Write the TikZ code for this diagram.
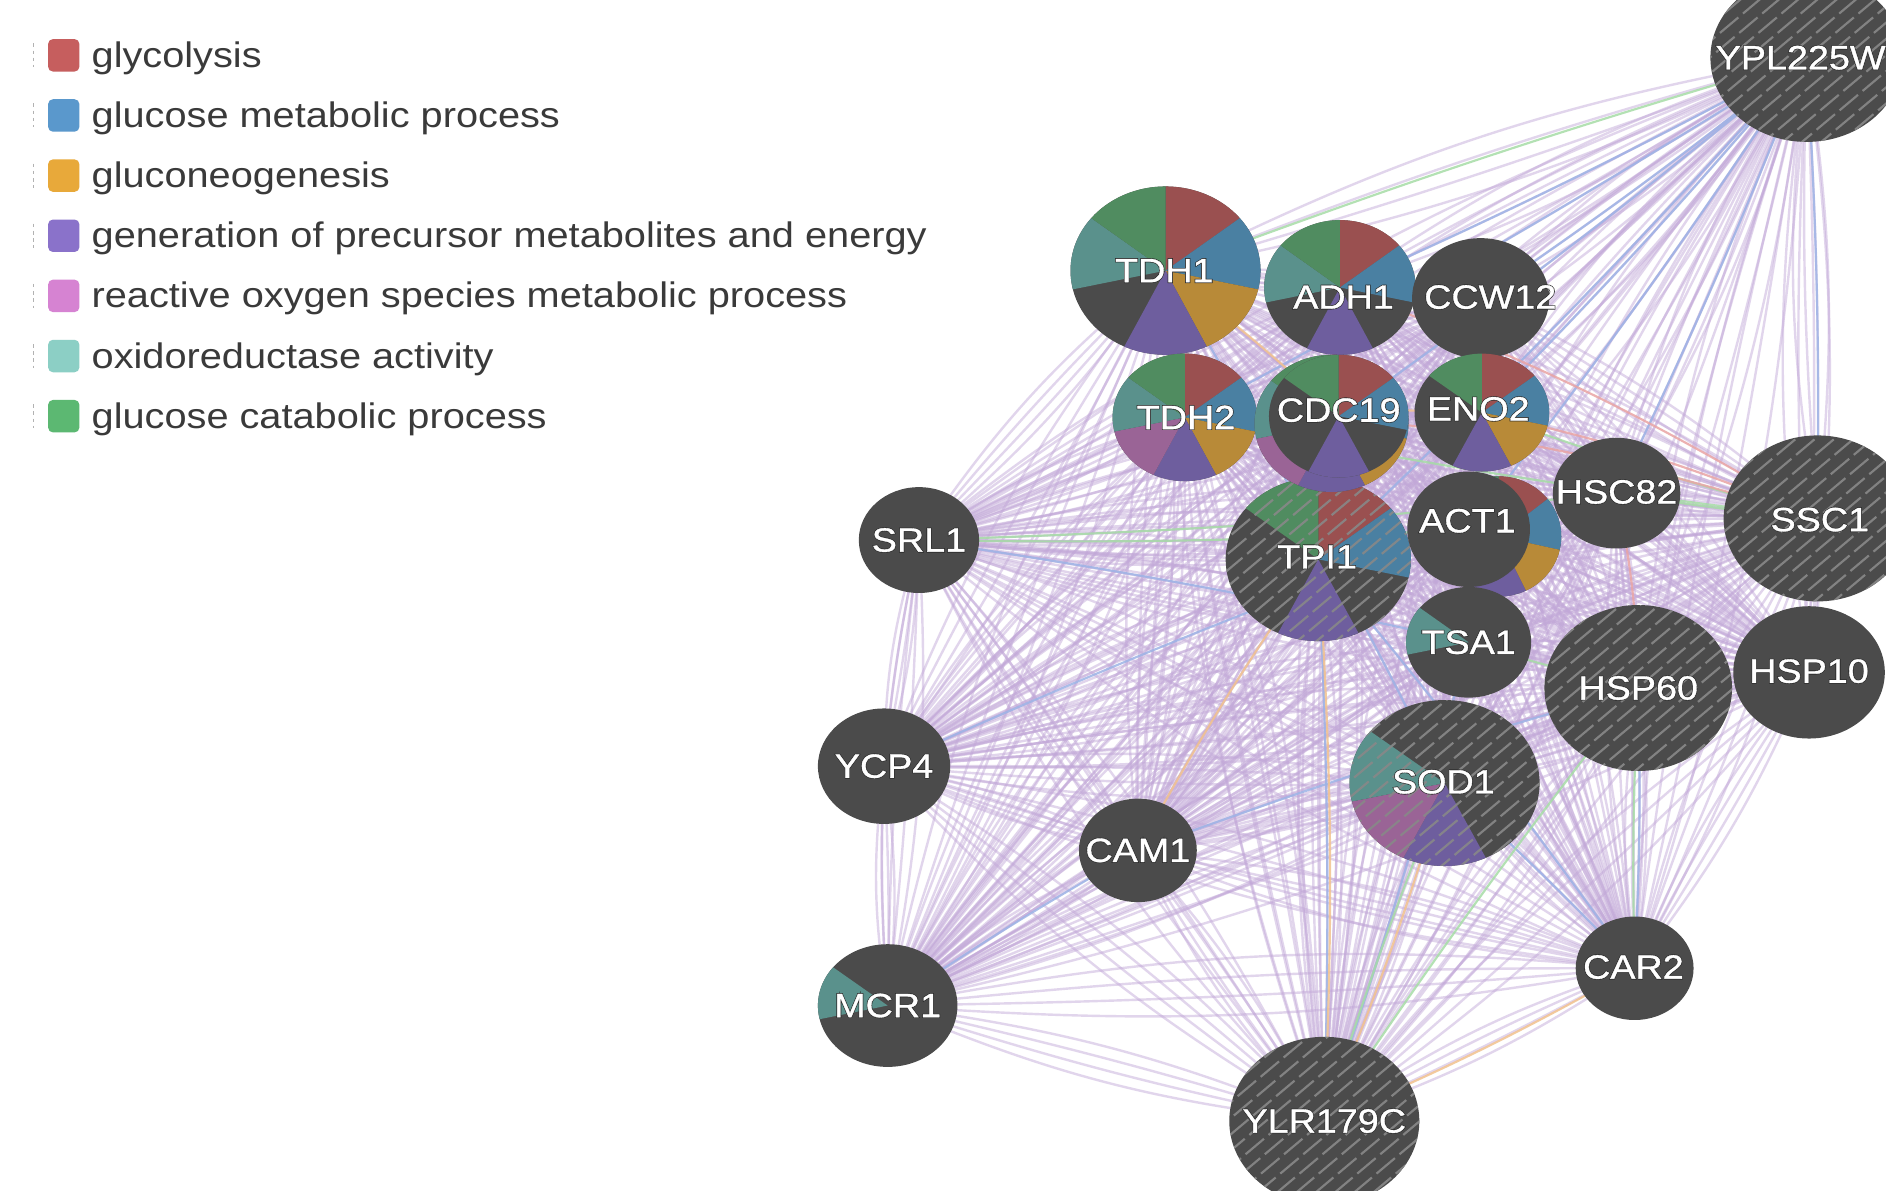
\documentclass[tikz,border=0pt]{standalone}
\usepackage{fontspec}
\setmainfont[FakeStretch=1.12]{Liberation Sans}
\newfontfamily\lblout[FakeStretch=1.12,FakeBold=5]{Liberation Sans}
\newfontfamily\lblin[FakeStretch=1.12,FakeBold=1]{Liberation Sans}
\usetikzlibrary{calc}
\definecolor{nodefill}{HTML}{4B4B4B}
\definecolor{hatchc}{HTML}{888888}
\definecolor{pR}{HTML}{9A5050}
\definecolor{pB}{HTML}{4A80A2}
\definecolor{pO}{HTML}{B88A38}
\definecolor{pP}{HTML}{6E5E9E}
\definecolor{pK}{HTML}{9A6496}
\definecolor{pT}{HTML}{5A918C}
\definecolor{pG}{HTML}{508C60}
\definecolor{lR}{HTML}{C65E5E}
\definecolor{lB}{HTML}{5A98CC}
\definecolor{lO}{HTML}{E8A93A}
\definecolor{lP}{HTML}{8A72CA}
\definecolor{lK}{HTML}{D683D2}
\definecolor{lT}{HTML}{8CCFC5}
\definecolor{lG}{HTML}{5CB872}
\definecolor{legtext}{HTML}{3A3A3A}
\definecolor{lblline}{HTML}{2A2A2A}
\definecolor{edgeP}{HTML}{C2A8D8}
\definecolor{edgeB}{HTML}{9DB3E6}
\definecolor{edgeG}{HTML}{A6DCA6}
\definecolor{edgeO}{HTML}{F2C28E}
\definecolor{edgeR}{HTML}{E9A4A4}
\newcommand\pieslot[5]{\fill[#5] (#1) -- ++({#2*cos(90-(#4-1)*360/7)},{#3*sin(90-(#4-1)*360/7)}) arc[start angle={90-(#4-1)*360/7}, end angle={90-(#4)*360/7}, x radius=#2, y radius=#3] -- cycle;}
\newcommand\gbase[3]{\fill[nodefill] (#1) ellipse [x radius=#2, y radius=#3];}
\newcommand\ghatch[3]{\begin{scope}\clip (#1) ellipse [x radius=#2, y radius=#3];
 \foreach \k in {-11,...,11} \draw[hatchline] ($(#1)+(\k*16-110,-92)$) -- ++(220,185);\end{scope}}
\newcommand\glabel[3]{\node[lbl] (#1-t) at (#2,-#3) {\rlap{\lblout\textcolor{lblline}{#1}}\lblin\textcolor{white}{#1}};}
\begin{document}
\begin{tikzpicture}[x=1pt,y=1pt,
 pe/.style={draw=edgeP,line width=2,opacity=0.48},
 ce/.style={line width=1.8,opacity=0.85},
 hatchline/.style={draw=hatchc,line width=1.8,dash pattern=on 20pt off 5pt,opacity=0.9},
 lbl/.style={font=\fontsize{28}{32}\selectfont,inner sep=0},
 legsq/.style={rounded corners=4,minimum width=26,minimum height=27,inner sep=0},
 legtx/.style={anchor=base west,inner sep=0,text=legtext,font=\fontsize{29.5}{32}\selectfont}]
\fill[white] (0,0) rectangle (1568,-990);
\useasboundingbox (0,0) rectangle (1568,-990);
% legend
\foreach \c/\t [count=\i] in {lR/glycolysis,lB/glucose metabolic process,lO/gluconeogenesis,lP/generation of precursor metabolites and energy,lK/reactive oxygen species metabolic process,lT/oxidoreductase activity,lG/glucose catabolic process}{
 \draw[gray!60,line width=1.2,dash pattern=on 3pt off 3pt] (28,{-46-50*(\i-1)+10}) coordinate (tk\i) -- ++(0,-20);
 \node[legsq,fill=\c] (sq\i) at (53,{-46-50*(\i-1)}) {};
 \node[legtx] (lt\i) at (76,{-56-50*(\i-1)}) {\t};}
% node centres
\coordinate (YPL225W) at (1502,-48);
\coordinate (TDH1) at (969,-225);
\coordinate (ADH1) at (1114,-239);
\coordinate (CCW12) at (1231,-248);
\coordinate (TDH2) at (985,-347);
\coordinate (CDC19b) at (1107,-352);
\coordinate (CDC19) at (1113,-346);
\coordinate (ENO2) at (1232,-343);
\coordinate (HSC82) at (1344,-410);
\coordinate (PGKh) at (1246,-446);
\coordinate (ACT1) at (1221,-440);
\coordinate (TPI1) at (1096,-465);
\coordinate (SSC1) at (1511,-431);
\coordinate (TSA1) at (1221,-534);
\coordinate (HSP60) at (1362,-572);
\coordinate (HSP10) at (1504,-559);
\coordinate (SRL1) at (764,-449);
\coordinate (YCP4) at (735,-637);
\coordinate (SOD1) at (1201,-651);
\coordinate (CAM1) at (946,-707);
\coordinate (CAR2) at (1359,-805);
\coordinate (MCR1) at (738,-836);
\coordinate (YLR179C) at (1101,-932);
% edges
\foreach \a [count=\i] in {YPL225W,TDH1,ADH1,CCW12,TDH2,CDC19,ENO2,HSC82,ACT1,TPI1,SSC1,TSA1,HSP60,HSP10,SRL1,YCP4,SOD1,CAM1,CAR2,MCR1,YLR179C}{
 \foreach \b [count=\j] in {YPL225W,TDH1,ADH1,CCW12,TDH2,CDC19,ENO2,HSC82,ACT1,TPI1,SSC1,TSA1,HSP60,HSP10,SRL1,YCP4,SOD1,CAM1,CAR2,MCR1,YLR179C}{
  \ifnum\j>\i
   \draw[pe] (\a) to[bend left=7] (\b);
   \draw[pe] (\a) to[bend left=2] (\b);
   \draw[pe] (\a) to[bend right=3] (\b);
   \draw[pe] (\a) to[bend right=8] (\b);
  \fi}}
\foreach \a/\b in {YPL225W/ADH1,YPL225W/CCW12,YPL225W/ENO2,YPL225W/HSC82,YPL225W/CDC19,YPL225W/TPI1,YPL225W/ACT1,YPL225W/SSC1,YPL225W/TDH2,SOD1/CAR2,TPI1/CAR2,TPI1/YLR179C,YCP4/ACT1,MCR1/CAM1,TDH1/SOD1,SRL1/TSA1,CAM1/HSP60,HSP60/CAR2,TSA1/YLR179C}
 \draw[ce,draw=edgeB] (\a) to[bend left=2] (\b);
\foreach \a/\b in {YPL225W/TDH1,SRL1/ACT1,SRL1/HSC82,ENO2/SSC1,HSC82/SSC1,HSP60/CAR2,HSP60/YLR179C,SOD1/YLR179C,TSA1/HSP60,TDH2/SSC1}
 \draw[ce,draw=edgeG] (\a) to[bend right=2] (\b);
\foreach \a/\b in {CAM1/TPI1,SOD1/YLR179C,CAR2/YLR179C,TDH1/CDC19,TPI1/YLR179C,TDH2/ENO2}
 \draw[ce,draw=edgeO] (\a) to[bend left=3] (\b);
\foreach \a/\b in {ENO2/SSC1,CDC19/SSC1,ADH1/SSC1,HSC82/HSP60}
 \draw[ce,draw=edgeR] (\a) to[bend left=5] (\b);
% nodes
\gbase{YPL225W}{80}{70}\ghatch{YPL225W}{80}{70}
\gbase{TDH1}{79}{70}
\foreach \k/\c in {1/pR,2/pB,3/pO,4/pP,6/pT,7/pG} {\pieslot{TDH1}{79}{70}{\k}{\c}}
\gbase{TPI1}{77}{68}
\foreach \k/\c in {1/pR,2/pB,4/pP,7/pG} {\pieslot{TPI1}{77}{68}{\k}{\c}}
\ghatch{TPI1}{77}{68}
\gbase{ADH1}{63}{56}
\foreach \k/\c in {1/pR,2/pB,4/pP,6/pT,7/pG} {\pieslot{ADH1}{63}{56}{\k}{\c}}
\gbase{CCW12}{57}{50}
\gbase{TDH2}{60}{53}
\foreach \k/\c in {1/pR,2/pB,3/pO,4/pP,5/pK,6/pT,7/pG} {\pieslot{TDH2}{60}{53}{\k}{\c}}
\gbase{CDC19b}{64}{57}
\foreach \k/\c in {1/pR,2/pB,3/pO,4/pP,5/pK,6/pT,7/pG} {\pieslot{CDC19b}{64}{57}{\k}{\c}}
\gbase{CDC19}{58}{51}
\foreach \k/\c in {1/pR,2/pB,4/pP,7/pG} {\pieslot{CDC19}{58}{51}{\k}{\c}}
\gbase{ENO2}{56}{49}
\foreach \k/\c in {1/pR,2/pB,3/pO,4/pP,7/pG} {\pieslot{ENO2}{56}{49}{\k}{\c}}
\gbase{HSC82}{53}{46}
\gbase{PGKh}{52}{50}
\foreach \k/\c in {1/pR,2/pB,3/pO,4/pP,7/pG} {\pieslot{PGKh}{52}{50}{\k}{\c}}
\gbase{ACT1}{51}{48}
\gbase{SSC1}{78}{69}\ghatch{SSC1}{78}{69}
\gbase{TSA1}{52}{46}
\pieslot{TSA1}{52}{46}{6}{pT}
\gbase{HSP60}{78}{69}\ghatch{HSP60}{78}{69}
\gbase{HSP10}{63}{55}
\gbase{SRL1}{50}{44}
\gbase{YCP4}{55}{48}
\gbase{SOD1}{79}{69}
\foreach \k/\c in {4/pP,5/pK,6/pT} {\pieslot{SOD1}{79}{69}{\k}{\c}}
\ghatch{SOD1}{79}{69}
\gbase{CAM1}{49}{43}
\gbase{CAR2}{49}{43}
\gbase{MCR1}{58}{51}
\pieslot{MCR1}{58}{51}{6}{pT}
\gbase{YLR179C}{79}{70}\ghatch{YLR179C}{79}{70}
% labels
\glabel{YPL225W}{1497}{48}
\glabel{TDH1}{968}{225}
\glabel{ADH1}{1117}{247}
\glabel{CCW12}{1239}{247}
\glabel{TDH2}{986}{347}
\glabel{CDC19}{1113}{341}
\glabel{ENO2}{1229}{340}
\glabel{HSC82}{1344}{409}
\glabel{ACT1}{1220}{433}
\glabel{TPI1}{1095}{463}
\glabel{SSC1}{1513}{432}
\glabel{TSA1}{1221}{534}
\glabel{HSP60}{1362}{572}
\glabel{HSP10}{1504}{558}
\glabel{SRL1}{764}{449}
\glabel{YCP4}{735}{637}
\glabel{SOD1}{1200}{650}
\glabel{CAM1}{946}{707}
\glabel{CAR2}{1358}{804}
\glabel{MCR1}{738}{836}
\glabel{YLR179C}{1101}{932}
\end{tikzpicture}
\end{document}
